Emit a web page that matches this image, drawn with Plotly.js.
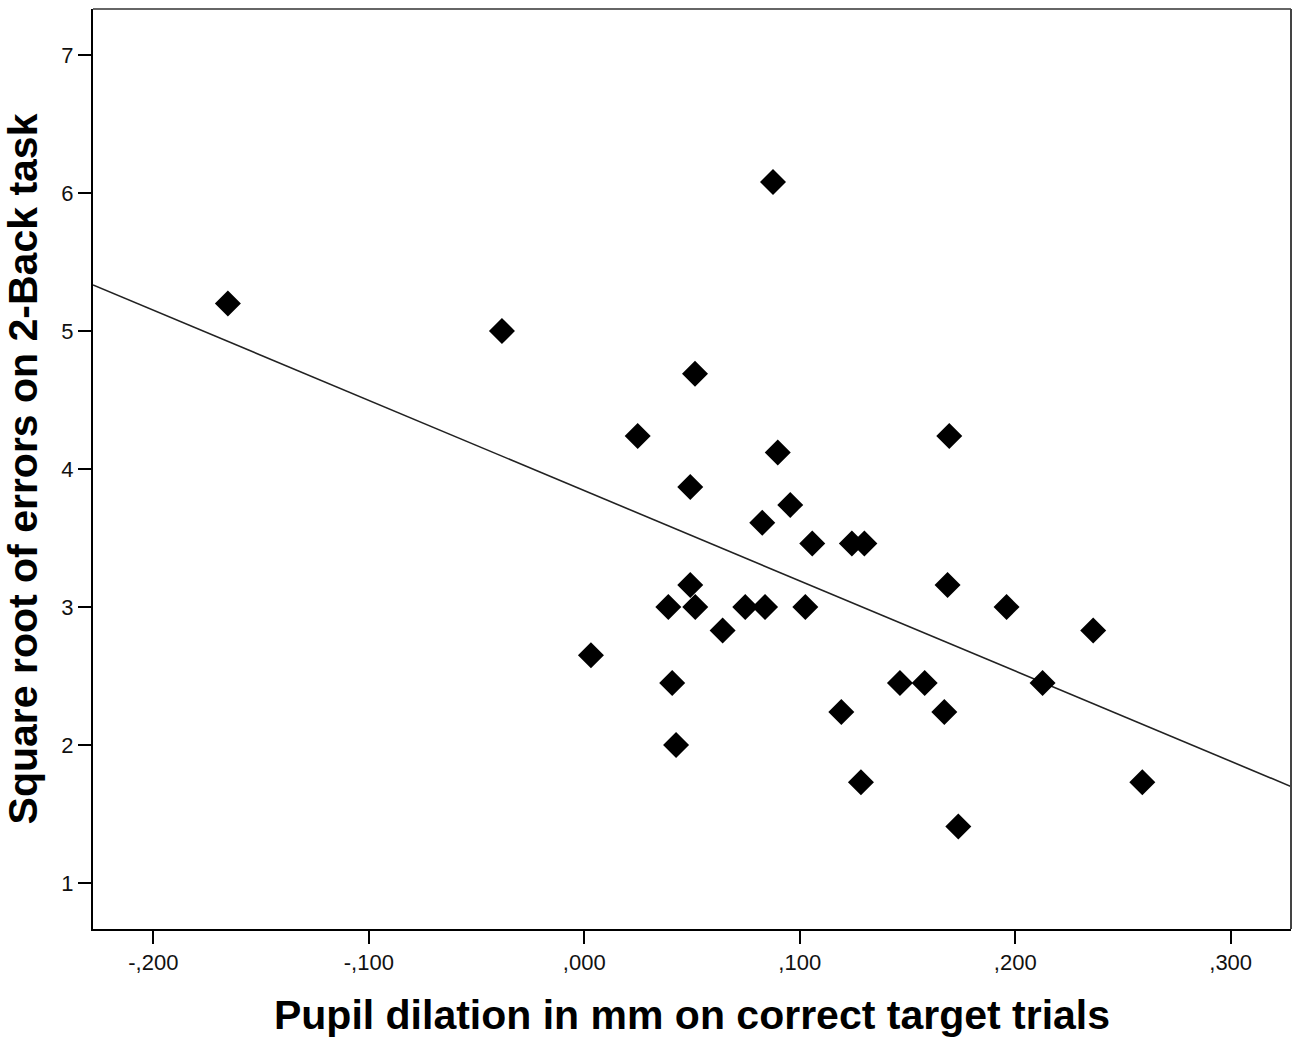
<!DOCTYPE html>
<html>
<head>
<meta charset="utf-8">
<script src="https://cdn.plot.ly/plotly-3.0.1.min.js"></script>
<style>
  html, body { margin: 0; padding: 0; background: #fff; }
  #chart { width: 1300px; height: 1044px; }
</style>
</head>
<body>
<div id="chart"></div>
<script>
// Pupil dilation (mm) on correct target trials, one value per participant
const pupilDilation = [
  -0.1654, -0.0382, 0.0876, 0.0514, 0.0248, 0.1694, 0.0898, 0.0492,
   0.0956,  0.0826, 0.1058, 0.1242, 0.1300, 0.0492, 0.1686, 0.0390,
   0.0515,  0.0747, 0.0839, 0.1026, 0.1960, 0.0642, 0.2362, 0.0031,
   0.0408,  0.1465, 0.1580, 0.2127, 0.1193, 0.1671, 0.0426, 0.1284,
   0.2590,  0.1736,
];

// Square root of errors on the 2-Back task, same order
const sqrtErrors = [
  5.20, 5.00, 6.08, 4.69, 4.24, 4.24, 4.12, 3.87,
  3.74, 3.61, 3.46, 3.46, 3.46, 3.16, 3.16, 3.00,
  3.00, 3.00, 3.00, 3.00, 3.00, 2.83, 2.83, 2.65,
  2.45, 2.45, 2.45, 2.45, 2.24, 2.24, 2.00, 1.73,
  1.73, 1.41,
];

const xTickVals  = [-0.2, -0.1, 0, 0.1, 0.2, 0.3];
const xTickText  = ['-,200', '-,100', ',000', ',100', ',200', ',300'];
const yTickVals  = [1, 2, 3, 4, 5, 6, 7];
const xRange     = [-0.228, 0.328];
const yRange     = [0.667, 7.333];

// Least-squares fit line, drawn across the full x range
function linearFit(xs, ys) {
  const n = xs.length;
  const mx = xs.reduce((a, b) => a + b, 0) / n;
  const my = ys.reduce((a, b) => a + b, 0) / n;
  let sxy = 0, sxx = 0;
  for (let i = 0; i < n; i++) {
    sxy += (xs[i] - mx) * (ys[i] - my);
    sxx += (xs[i] - mx) ** 2;
  }
  const slope = sxy / sxx;
  return { slope, intercept: my - slope * mx };
}

const fit = linearFit(pupilDilation, sqrtErrors);
const fitX = xRange.slice();
const fitY = fitX.map(x => fit.intercept + fit.slope * x);

const FONT = 'Liberation Sans, Arial, sans-serif';

const traces = [
  {
    x: fitX,
    y: fitY,
    mode: 'lines',
    line: { color: '#222', width: 1.6 },
    hoverinfo: 'skip',
  },
  {
    x: pupilDilation,
    y: sqrtErrors,
    mode: 'markers',
    marker: { symbol: 'diamond', size: 20, color: '#000', line: { width: 0 } },
  },
];

const layout = {
  width: 1300,
  height: 1044,
  paper_bgcolor: '#fff',
  plot_bgcolor:  '#fff',
  showlegend: false,
  margin: { t: 9, r: 9, b: 115, l: 93 },
  font: { family: FONT, color: '#000', size: 22 },
  xaxis: {
    range: xRange,
    tickvals: xTickVals,
    ticktext: xTickText,
    ticks: 'outside',
    ticklen: 13,
    tickwidth: 2,
    tickcolor: '#000',
    showgrid: false,
    zeroline: false,
    showline: true,
    linecolor: '#000',
    linewidth: 2,
    tickfont: { family: FONT, size: 22, color: '#111' },
    title: {
      text: 'Pupil dilation in mm on correct target trials',
      font: { family: FONT, size: 41, color: '#000', weight: 'bold' },
      standoff: 26,
    },
  },
  yaxis: {
    range: yRange,
    tickvals: yTickVals,
    ticks: 'outside',
    ticklen: 13,
    tickwidth: 2,
    tickcolor: '#000',
    showgrid: false,
    zeroline: false,
    showline: true,
    linecolor: '#000',
    linewidth: 2,
    tickfont: { family: FONT, size: 22, color: '#111' },
    title: {
      text: 'Square root of errors on 2-Back task',
      font: { family: FONT, size: 41, color: '#000', weight: 'bold' },
      standoff: 16,
    },
  },
  // grey frame on top and right, as in the source figure
  shapes: [
    { type: 'line', xref: 'paper', yref: 'paper', x0: 0, x1: 1, y0: 1, y1: 1,
      line: { color: '#666', width: 2 } },
    { type: 'line', xref: 'paper', yref: 'paper', x0: 1, x1: 1, y0: 0, y1: 1,
      line: { color: '#444', width: 2 } },
  ],
};

Plotly.newPlot('chart', traces, layout, { staticPlot: true, displayModeBar: false });
</script>
</body>
</html>
